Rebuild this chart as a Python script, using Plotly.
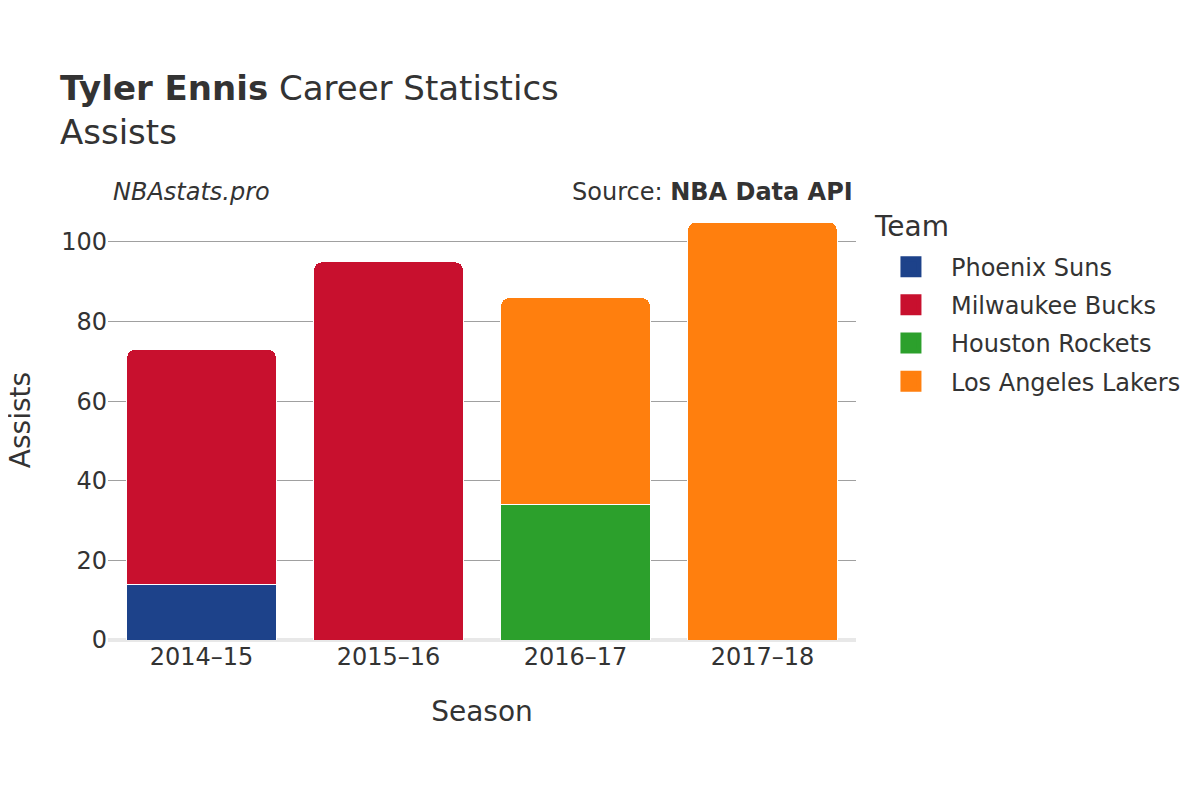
import plotly.graph_objects as go

seasons = ["2014–15", "2015–16", "2016–17", "2017–18"]
teams = ["Phoenix Suns", "Milwaukee Bucks", "Houston Rockets", "Los Angeles Lakers"]
colors = ["#1d428a", "#c8102e", "#2ca02c", "#ff7f0e"]
phoenix = [14, None, None, None]
milwaukee = [59, 95, None, None]
houston = [None, None, 34, None]
lakers = [None, None, 52, 105]
values = [phoenix, milwaukee, houston, lakers]

fig = go.Figure()
for team, color, vals in zip(teams, colors, values):
    fig.add_trace(go.Bar(
        x=seasons, y=vals, name=team, showlegend=False,
        marker=dict(color=color, line=dict(color="white", width=1)),
    ))
# legend swatches
for team, color in zip(teams, colors):
    fig.add_trace(go.Scatter(
        x=[None], y=[None], mode="markers", name=team, legendgroup=team,
        marker=dict(symbol="square", size=16, color=color,
                    line=dict(color=color, width=5)),
    ))

font_family = "DejaVu Sans"
fig.update_layout(
    barmode="stack",
    barcornerradius=8,
    bargap=0.2,
    width=1200, height=800,
    paper_bgcolor="white", plot_bgcolor="white",
    font=dict(family=font_family, color="#333333", size=24),
    title=dict(
        text="<b>Tyler Ennis</b> Career Statistics<br>Assists",
        x=0.0433, xanchor="left", y=0.885, yanchor="top",
        font=dict(size=34, color="#333333"),
    ),
    margin=dict(l=100, r=352, t=214, b=168, autoexpand=False),
    xaxis=dict(
        title=dict(text="Season", font=dict(size=28), standoff=31),
        tickfont=dict(size=24), showgrid=False, ticks="", automargin=False,
    ),
    yaxis=dict(
        tickfont=dict(size=24), range=[0, 105], automargin=False,
        showgrid=True, gridcolor="#a0a0a0", gridwidth=1,
        zeroline=True, zerolinecolor="#e8e8e8", zerolinewidth=4,
        dtick=20, ticks="",
    ),
    legend=dict(
        font=dict(size=24),
        x=1.02, xanchor="left", y=0.946, yanchor="top",
        traceorder="grouped", itemwidth=70, tracegroupgap=4,
    ),
    annotations=[
        dict(text="Assists", xref="paper", yref="paper",
             x=0.0, y=0.526, xanchor="center", yanchor="middle",
             textangle=-90, showarrow=False, borderpad=0,
             font=dict(size=28, color="#333333"), xshift=-88),
        dict(text="Team", xref="paper", yref="paper",
             x=1.0, y=1.0, xanchor="left", yanchor="middle",
             showarrow=False, font=dict(size=28, color="#333333"),
             xshift=16, yshift=-4),
        dict(text="<i>NBAstats.pro</i>", xref="paper", yref="paper",
             x=0.0, y=1.04, xanchor="left", yanchor="bottom",
             showarrow=False, font=dict(size=24, color="#333333"),
             xshift=3, yshift=-3),
        dict(text="Source: <b>NBA Data API</b>", xref="paper", yref="paper",
             x=1.0, y=1.04, xanchor="right", yanchor="bottom",
             showarrow=False, font=dict(size=24, color="#333333"),
             xshift=-1, yshift=-3),
    ],
)

fig.write_html("out.html")
